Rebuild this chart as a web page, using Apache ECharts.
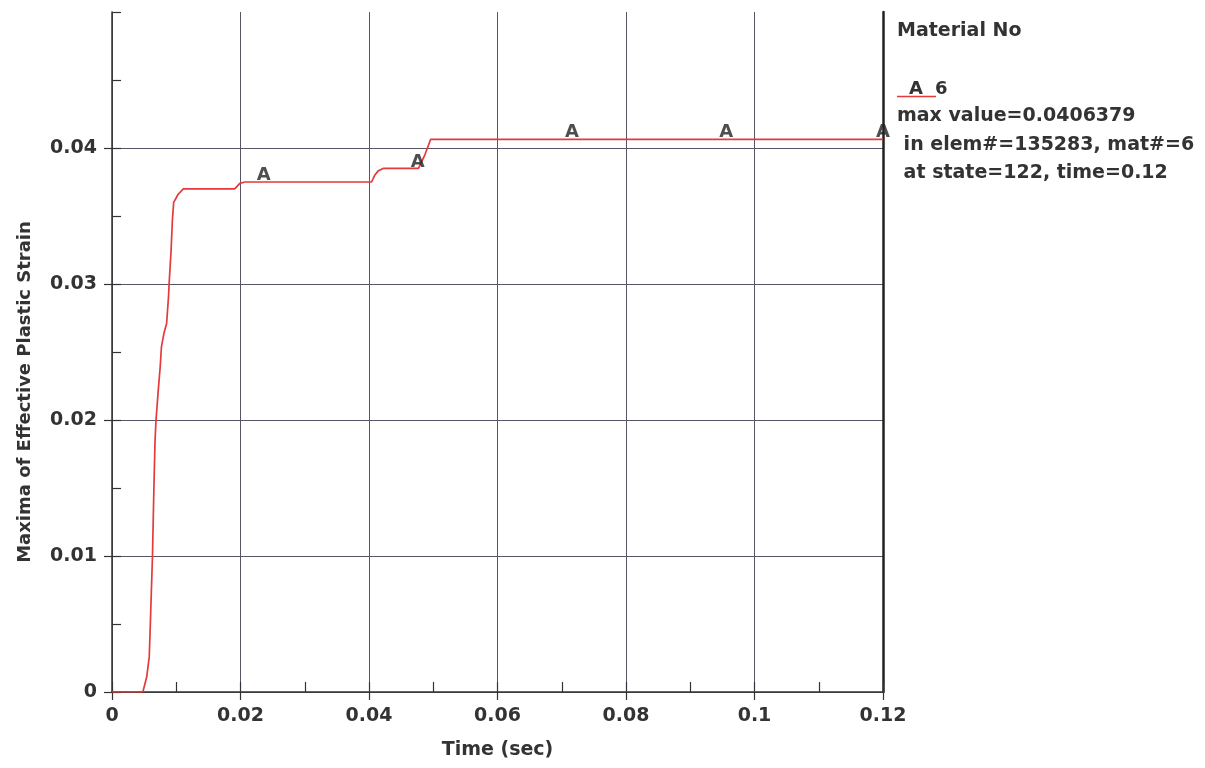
<!DOCTYPE html>
<html>
<head>
<meta charset="utf-8">
<script src="https://cdn.jsdelivr.net/npm/echarts@6/dist/echarts.min.js"></script>
<style>
  html, body { margin: 0; padding: 0; background: #ffffff; }
  #chart { width: 1205px; height: 768px; }
</style>
</head>
<body>
<div id="chart"></div>
<script>
// ---- data ----
const times  = [0, 0.0048, 0.0054, 0.0058, 0.0060, 0.0063, 0.00654, 0.0067, 0.00685, 0.0072, 0.0075, 0.0077, 0.0081, 0.0085, 0.0088, 0.0089, 0.0092, 0.0094, 0.0096, 0.0103, 0.0111, 0.0191, 0.0199, 0.0207, 0.0404, 0.0409, 0.0414, 0.0422, 0.0477, 0.0487, 0.0496, 0.12];
const strain = [0, 0, 0.0011, 0.0026, 0.0055, 0.0100, 0.0154, 0.0185, 0.0200, 0.0222, 0.0239, 0.0254, 0.0264, 0.0271, 0.0291, 0.0301, 0.0325, 0.0347, 0.0360, 0.0366, 0.0370, 0.0370, 0.0374, 0.0375, 0.0375, 0.0380, 0.0383, 0.0385, 0.0385, 0.0395, 0.04064, 0.04064];
const markerTimes  = [0.0236, 0.0476, 0.0716, 0.0956, 0.12];
const markerValues = [0.0375, 0.0385, 0.04064, 0.04064, 0.04064];
const markerLabel = 'A';
const yTickValues = [0, 0.01, 0.02, 0.03, 0.04];
const xName = 'Time (sec)';
const yName = 'Maxima of Effective Plastic Strain';
const legendTitle = 'Material No';
const legendSeries = ['A', '6'];
const legendInfo = ['max value=0.0406379', ' in elem#=135283, mat#=6', ' at state=122, time=0.12'];

const FONT = 'DejaVu Sans';
const TXT = '#333333';
const GRID = '#555565';
const RED = '#e5393a';

const fmt = v => String(parseFloat(Number(v).toFixed(4)));

const chart = echarts.init(document.getElementById('chart'), null, { renderer: 'canvas' });
chart.setOption({
  animation: false,
  backgroundColor: '#ffffff',
  grid: { left: 112, right: 322, top: 12, bottom: 76, containLabel: false },
  xAxis: [
    {
      type: 'value', min: 0, max: 0.12, interval: 0.02, position: 'bottom',
      axisLine: { show: true, lineStyle: { color: '#333', width: 1.5 } },
      axisTick: { show: true, inside: false, length: 8, lineStyle: { color: '#333', width: 1.2 } },
      axisLabel: { fontFamily: FONT, fontWeight: 'bold', fontSize: 19, color: TXT, margin: 15, formatter: fmt },
      splitLine: { show: true, lineStyle: { color: GRID, width: 1 } },
      name: xName, nameLocation: 'middle', nameGap: 49,
      nameTextStyle: { fontFamily: FONT, fontWeight: 'bold', fontSize: 19, color: TXT }
    },
    {
      type: 'value', min: 0, max: 0.12, interval: 0.01, position: 'bottom',
      axisLine: { show: false },
      axisTick: { show: true, inside: true, length: 10, lineStyle: { color: '#333', width: 1.2 } },
      axisLabel: { show: false },
      splitLine: { show: false }
    }
  ],
  yAxis: [
    {
      type: 'value', min: 0, max: 0.05, interval: 0.01, position: 'left',
      axisLine: { show: true, lineStyle: { color: '#333', width: 1.5 } },
      axisTick: { show: true, inside: false, length: 8, customValues: yTickValues, lineStyle: { color: '#333', width: 1.2 } },
      axisLabel: { fontFamily: FONT, fontWeight: 'bold', fontSize: 19, color: TXT, margin: 15,
        customValues: yTickValues, formatter: fmt },
      splitLine: { show: true, lineStyle: { color: GRID, width: 1 } },
      name: yName, nameLocation: 'middle', nameGap: 78,
      nameTextStyle: { fontFamily: FONT, fontWeight: 'bold', fontSize: 18, color: TXT, padding: [0, 80, 0, 0] }
    },
    {
      type: 'value', min: 0, max: 0.05, interval: 0.005, position: 'left',
      axisLine: { show: false },
      axisTick: { show: true, inside: true, length: 9, lineStyle: { color: '#333', width: 1.2 } },
      axisLabel: { show: false },
      splitLine: { show: false }
    },
    {
      type: 'value', min: 0, max: 0.05, interval: 0.01, position: 'right',
      axisLine: { show: true, lineStyle: { color: '#222', width: 2.5 } },
      axisTick: { show: false },
      axisLabel: { show: false },
      splitLine: { show: false }
    }
  ],
  series: [
    {
      type: 'line', xAxisIndex: 0, yAxisIndex: 0,
      data: times.map((t, i) => [t, strain[i]]),
      showSymbol: false, symbol: 'none',
      lineStyle: { color: RED, width: 1.7 },
      z: 5
    },
    {
      type: 'scatter', xAxisIndex: 0, yAxisIndex: 0,
      data: markerTimes.map((t, i) => [t, markerValues[i]]),
      symbolSize: 1,
      itemStyle: { color: 'rgba(0,0,0,0)' },
      label: { show: true, formatter: markerLabel, position: 'top', distance: -3,
        fontFamily: FONT, fontWeight: 'bold', fontSize: 18, color: '#222' },
      emphasis: { disabled: true },
      z: 6
    }
  ],
  graphic: [
    { type: 'text', left: 897, top: 22, style: { text: legendTitle, font: 'bold 19px "DejaVu Sans"', fill: TXT } },
    { type: 'line', shape: { x1: 897, y1: 96.5, x2: 936, y2: 96.5 }, style: { stroke: RED, lineWidth: 1.5 } },
    { type: 'text', left: 909, top: 80, style: { text: legendSeries[0], font: 'bold 18px "DejaVu Sans"', fill: TXT } },
    { type: 'text', left: 935, top: 80, style: { text: legendSeries[1], font: 'bold 18px "DejaVu Sans"', fill: TXT } },
    { type: 'text', left: 897, top: 107, style: { text: legendInfo[0], font: 'bold 19px "DejaVu Sans"', fill: TXT } },
    { type: 'text', left: 897, top: 136, style: { text: legendInfo[1], font: 'bold 19px "DejaVu Sans"', fill: TXT } },
    { type: 'text', left: 897, top: 164, style: { text: legendInfo[2], font: 'bold 19px "DejaVu Sans"', fill: TXT } }
  ]
});
</script>
</body>
</html>
